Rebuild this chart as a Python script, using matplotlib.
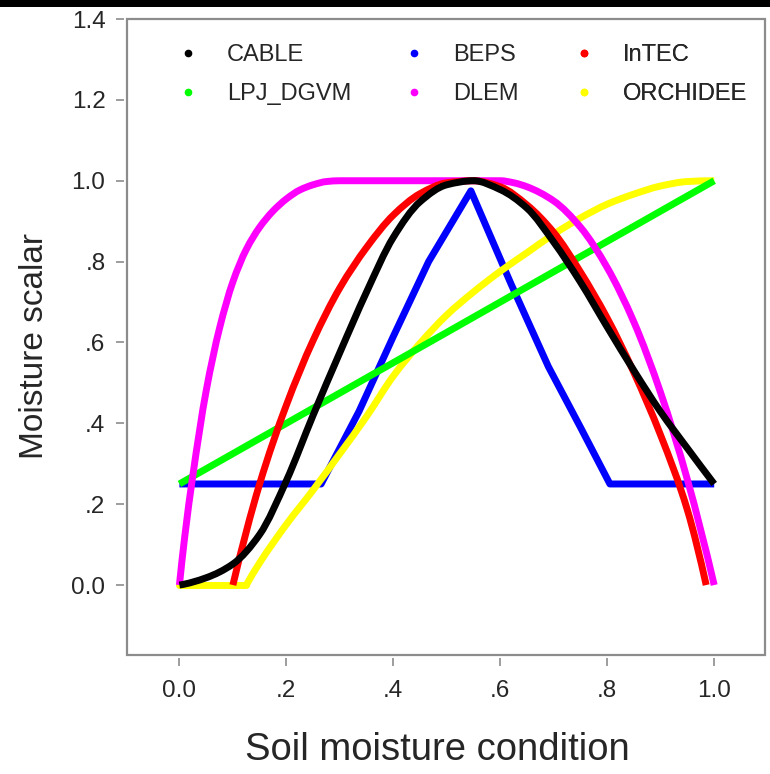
import matplotlib
matplotlib.use('Agg')
import matplotlib.pyplot as plt
import numpy as np
from matplotlib.lines import Line2D
from matplotlib.patches import Rectangle, PathPatch
from matplotlib.path import Path

plt.rcParams['font.family'] = ['Liberation Sans', 'DejaVu Sans']

# ---- data ----
cable_x = [0.0, 0.05, 0.10, 0.15, 0.20, 0.25, 0.30, 0.35, 0.40, 0.45, 0.50, 0.55,
           0.60, 0.65, 0.70, 0.75, 0.80, 0.85, 0.90, 0.95, 1.00]
cable_y = [0.0, 0.018, 0.052, 0.125, 0.258, 0.42, 0.575, 0.725, 0.86, 0.948, 0.99, 1.0,
           0.978, 0.932, 0.848, 0.749, 0.638, 0.530, 0.428, 0.338, 0.25]

beps_x = [0.0, 0.265, 0.336, 0.40, 0.466, 0.545, 0.62, 0.69, 0.75, 0.805, 1.0]
beps_y = [0.25, 0.25, 0.43, 0.615, 0.80, 0.975, 0.745, 0.54, 0.39, 0.25, 0.25]

intec_x = [0.10, 0.15, 0.20, 0.25, 0.30, 0.35, 0.40, 0.45, 0.50, 0.55, 0.60,
           0.65, 0.70, 0.75, 0.80, 0.85, 0.90, 0.95, 0.985]
intec_y = [0.0, 0.25, 0.445, 0.605, 0.735, 0.835, 0.915, 0.968, 0.995, 1.0, 0.985,
           0.94, 0.872, 0.774, 0.66, 0.525, 0.37, 0.185, 0.0]

lpj_x = [0.0, 1.0]
lpj_y = [0.25, 1.0]

dlem_x = [0.0, 0.01, 0.025, 0.05, 0.075, 0.10, 0.125, 0.15, 0.175, 0.20, 0.225, 0.25,
          0.275, 0.30, 0.60, 0.625, 0.65, 0.70, 0.75, 0.80, 0.85, 0.90, 0.95, 1.0]
dlem_y = [0.0, 0.12, 0.27, 0.48, 0.635, 0.75, 0.83, 0.885, 0.925, 0.955, 0.977, 0.99,
          0.998, 1.0, 1.0, 0.995, 0.985, 0.95, 0.885, 0.785, 0.65, 0.475, 0.26, 0.0]

orch_x = [0.0, 0.125, 0.15, 0.20, 0.25, 0.30, 0.35, 0.40, 0.45, 0.50, 0.55, 0.60,
          0.65, 0.70, 0.75, 0.80, 0.85, 0.90, 0.95, 1.0]
orch_y = [0.0, 0.0, 0.055, 0.15, 0.235, 0.325, 0.417, 0.517, 0.598, 0.668, 0.725, 0.776,
          0.822, 0.868, 0.908, 0.942, 0.967, 0.987, 0.998, 1.0]

model_names = ['CABLE', 'BEPS', 'InTEC', 'LPJ_DGVM', 'DLEM', 'ORCHIDEE']
model_colors = ['#000000', '#0000FF', '#FF0000', '#00FF00', '#FF00FF', '#FFFF00']

x_ticks = [0.0, 0.2, 0.4, 0.6, 0.8, 1.0]
x_tick_labels = ['0.0', '.2', '.4', '.6', '.8', '1.0']
y_ticks = [0.0, 0.2, 0.4, 0.6, 0.8, 1.0, 1.2, 1.4]
y_tick_labels = ['0.0', '.2', '.4', '.6', '.8', '1.0', '1.2', '1.4']


# ---- smooth drawing of a series: monotone cubic (Fritsch-Carlson) as Bezier path ----
def _pchip_slopes(x, y):
    x = np.asarray(x, float)
    y = np.asarray(y, float)
    h = np.diff(x)
    d = np.diff(y) / h
    n = len(x)
    m = np.zeros(n)
    if n == 2:
        m[:] = d[0]
        return m
    for k in range(1, n - 1):
        if d[k - 1] * d[k] <= 0:
            m[k] = 0.0
        else:
            w1 = 2 * h[k] + h[k - 1]
            w2 = h[k] + 2 * h[k - 1]
            m[k] = (w1 + w2) / (w1 / d[k - 1] + w2 / d[k])

    def end(h0, h1, d0, d1):
        s = ((2 * h0 + h1) * d0 - h0 * d1) / (h0 + h1)
        if np.sign(s) != np.sign(d0):
            s = 0.0
        elif np.sign(d0) != np.sign(d1) and abs(s) > abs(3 * d0):
            s = 3 * d0
        return s

    m[0] = end(h[0], h[1], d[0], d[1])
    m[-1] = end(h[-1], h[-2], d[-1], d[-2])
    return m


def smooth_path(x, y):
    x = np.asarray(x, float)
    y = np.asarray(y, float)
    m = _pchip_slopes(x, y)
    verts = [(x[0], y[0])]
    codes = [Path.MOVETO]
    for i in range(len(x) - 1):
        h = x[i + 1] - x[i]
        verts += [(x[i] + h / 3, y[i] + m[i] * h / 3),
                  (x[i + 1] - h / 3, y[i + 1] - m[i + 1] * h / 3),
                  (x[i + 1], y[i + 1])]
        codes += [Path.CURVE4] * 3
    return Path(verts, codes)


# ---- figure ----
W, H = 770, 774
fig = plt.figure(figsize=(W / 100, H / 100), dpi=100)
fig.patches.append(Rectangle((0, 1 - 7 / H), 1, 7 / H, transform=fig.transFigure,
                             facecolor='black', edgecolor='none'))

ax_l, ax_r, ax_t, ax_b = 127, 765, 19, 655
ax = fig.add_axes([ax_l / W, 1 - ax_b / H, (ax_r - ax_l) / W, (ax_b - ax_t) / H])
ax.set_xlim(-0.098, 1.095)
ax.set_ylim(-0.173, 1.4)

color_of = dict(zip(model_names, model_colors))
LW = 5.0


def draw_smooth(x, y, color, z):
    ax.add_patch(PathPatch(smooth_path(x, y), fill=False, edgecolor=color, lw=LW,
                           capstyle='butt', joinstyle='round', zorder=z))


# draw order (later on top)
ax.plot(beps_x, beps_y, color=color_of['BEPS'], lw=LW, solid_capstyle='butt',
        solid_joinstyle='round', zorder=2)
ax.plot(orch_x[:2], orch_y[:2], color=color_of['ORCHIDEE'], lw=LW,
        solid_capstyle='round', zorder=3)
draw_smooth(orch_x[1:], orch_y[1:], color_of['ORCHIDEE'], 3)
ax.plot(lpj_x, lpj_y, color=color_of['LPJ_DGVM'], lw=LW, solid_capstyle='butt', zorder=4)
draw_smooth(dlem_x, dlem_y, color_of['DLEM'], 5)
draw_smooth(intec_x, intec_y, color_of['InTEC'], 6)
draw_smooth(cable_x, cable_y, color_of['CABLE'], 7)

grey = '#8c8c8c'
for s in ax.spines.values():
    s.set_visible(False)
ax.spines['left'].set_position(('outward', 2.5))
ax.spines['bottom'].set_position(('outward', 2.5))
ax.add_patch(Rectangle((0, 0), 1, 1, transform=ax.transAxes, fill=False,
                       edgecolor=grey, lw=1.6, clip_on=False, zorder=20))

ax.set_xticks(x_ticks)
ax.set_xticklabels(x_tick_labels)
ax.set_yticks(y_ticks)
ax.set_yticklabels(y_tick_labels)
ax.tick_params(axis='both', direction='out', length=5.5, width=1.2, color=grey,
               labelsize=17.5, labelcolor='#262626')
ax.tick_params(axis='x', pad=10)
ax.tick_params(axis='y', pad=7.5)

ax.set_xlabel('Soil moisture condition', fontsize=27.5, color='#262626', va='center')
ax.xaxis.set_label_coords((437 - ax_l) / (ax_r - ax_l), (ax_b - 750) / (ax_b - ax_t))
ax.set_ylabel('Moisture scalar', fontsize=24, color='#262626', va='center')
ax.yaxis.set_label_coords((35 - ax_l) / (ax_r - ax_l), (ax_b - 346) / (ax_b - ax_t))

# legend: three columns, filled row by row like the reference
handles = {n: Line2D([], [], ls='none', marker='o', ms=4.5, color=color_of[n])
           for n in model_names}
columns = [['CABLE', 'LPJ_DGVM'], ['BEPS', 'DLEM'], ['InTEC', 'ORCHIDEE']]
col_anchor_px = [176, 402, 572]
for names, xa in zip(columns, col_anchor_px):
    lg = ax.legend([handles[n] for n in names], names, frameon=False,
                   loc='upper left',
                   bbox_to_anchor=((xa - ax_l) / (ax_r - ax_l), (ax_b - 44) / (ax_b - ax_t)),
                   borderpad=0, borderaxespad=0, handlelength=1.0, handletextpad=1.15,
                   labelspacing=0.72, fontsize=17, labelcolor='#262626')
    ax.add_artist(lg)

fig.savefig('out.png', dpi=100)
